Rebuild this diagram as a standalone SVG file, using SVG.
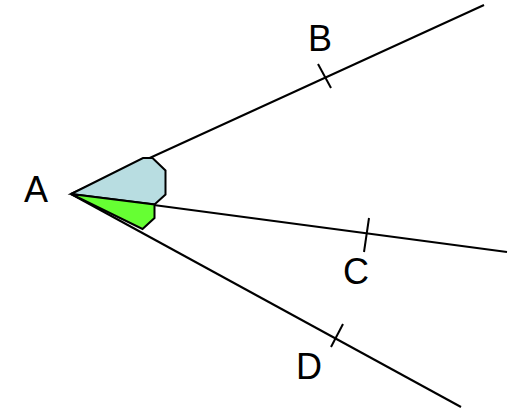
<svg xmlns="http://www.w3.org/2000/svg" width="509" height="409" viewBox="0 0 509 409">
<style>
.ln{stroke:#000;stroke-width:2;fill:none}
.ang{stroke:#000;stroke-width:2;stroke-linejoin:miter}
.lbl{font-family:"Liberation Sans",Arial,sans-serif;font-size:36px;fill:#000}
</style>
<rect width="509" height="409" fill="#fff"/>
<g id="connectors">
<line class="ln" x1="71" y1="194" x2="484" y2="5"/>
<line class="ln" x1="71" y1="194" x2="507" y2="252"/>
<line class="ln" x1="71" y1="194" x2="461" y2="407"/>
<line class="ln" x1="318" y1="64" x2="331" y2="88"/>
<line class="ln" x1="369" y1="218" x2="364" y2="252"/>
<line class="ln" x1="343" y1="324" x2="331" y2="347"/>
</g>
<g id="angles">
<polygon id="angleBAC" class="ang" fill="#b8dde1" points="71,194 143,158 152.5,158 165.5,170.5 165.5,194.5 154.5,204.5"/>
<polygon id="angleCAD" class="ang" fill="#66ff33" points="71,194 154.5,204.5 154.5,218 142.5,229"/>
</g>
<g id="A"><text class="lbl" x="24" y="202">A</text></g>
<g id="B"><text class="lbl" x="308" y="51">B</text></g>
<g id="C"><text class="lbl" x="343" y="284">C</text></g>
<g id="D"><text class="lbl" x="296" y="379">D</text></g>
</svg>
